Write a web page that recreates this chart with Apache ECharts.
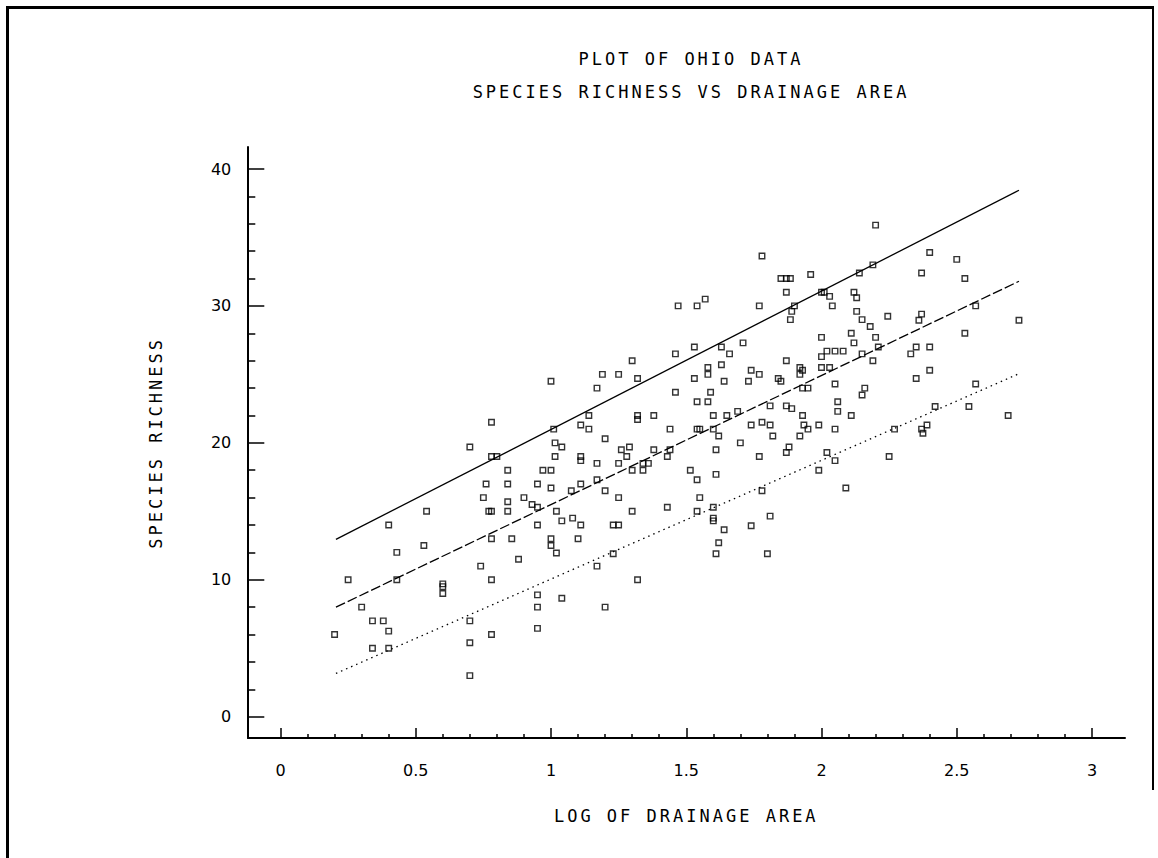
<!DOCTYPE html>
<html>
<head>
<meta charset="utf-8">
<script src="https://cdn.jsdelivr.net/npm/echarts@6/dist/echarts.min.js"></script>
<style>
  html, body { margin: 0; padding: 0; background: #fff; }
  #chart { width: 1158px; height: 858px; }
  text[style*="Mono"], text[font-family*="Mono"] { letter-spacing: 3px; }
</style>
</head>
<body>
<div id="chart"></div>
<script>
// ---- data ----
const titleLines = ['PLOT OF OHIO DATA', 'SPECIES RICHNESS VS DRAINAGE AREA'];
const xAxisName = 'LOG OF DRAINAGE AREA';
const yAxisName = 'SPECIES RICHNESS';

const logDrainageArea = [
  0.20,0.25,0.30,0.34,0.38,0.34,0.40,0.40,0.40,0.43,0.43,0.53,0.54,0.60,0.60,0.60,
  0.70,0.70,0.70,0.70,0.74,0.75,0.76,0.77,0.78,0.78,0.78,0.78,0.78,0.78,0.80,
  0.84,0.84,0.84,0.84,0.855,0.88,0.90,0.93,0.95,0.95,0.95,0.95,0.95,0.95,
  0.97,1.00,1.00,1.00,1.00,1.02,1.01,1.015,1.04,1.015,1.02,1.04,1.04,1.075,1.08,
  1.10,1.11,1.11,1.11,1.11,1.11,1.14,1.17,1.17,1.17,1.00,1.19,1.17,1.14,1.20,1.20,
  2.20,1.78,1.85,1.87,1.885,1.96,1.87,2.00,2.01,2.03,2.12,2.13,2.14,2.19,
  1.47,1.54,1.57,1.77,1.90,1.89,1.885,2.04,2.13,2.15,2.18,2.20,2.00,2.11,2.12,2.21,
  2.02,2.05,2.08,2.15,2.00,2.19,1.71,1.63,1.66,1.53,1.46,1.30,1.25,1.32,1.46,
  1.58,1.58,1.63,1.53,1.64,1.59,1.54,1.58,1.74,1.77,1.73,1.87,1.92,1.93,1.92,
  2.00,2.03,1.84,1.85,2.05,1.93,1.95,2.16,2.15,2.06,2.06,2.11,1.81,1.87,1.89,
  1.93,1.935,1.95,1.99,2.05,1.92,1.82,1.78,1.81,1.74,1.70,1.77,1.88,1.87,2.02,
  2.05,1.99,2.09,1.78,1.65,1.69,1.60,1.60,1.62,1.54,1.55,1.61,1.61,1.54,1.515,
  1.55,1.44,1.43,1.44,1.38,1.32,1.32,1.38,1.26,1.29,1.28,1.25,1.34,1.36,1.34,
  1.30,1.25,
  1.30,1.43,1.54,1.60,1.60,1.60,1.64,1.62,1.61,1.74,1.81,1.80,1.23,1.25,1.23,1.32,1.20,
  2.40,2.50,2.37,2.53,2.245,2.37,2.36,2.57,2.73,2.53,2.35,2.40,2.33,2.40,2.35,
  2.57,2.42,2.545,2.69,2.39,2.37,2.375,2.27,2.25
];
const speciesRichness = [
  6.0,10.0,8.0,7.0,7.0,5.0,6.25,5.0,14.0,12.0,10.0,12.5,15.0,9.7,9.5,9.0,
  19.7,7.0,5.4,3.0,11.0,16.0,17.0,15.0,15.0,13.0,10.0,6.0,21.5,19.0,19.0,
  18.0,17.0,15.7,15.0,13.0,11.5,16.0,15.5,17.0,15.3,14.0,8.9,8.0,6.45,
  18.0,18.0,16.7,13.0,12.5,11.95,21.0,20.0,19.7,19.0,15.0,14.3,8.65,16.5,14.5,
  13.0,14.0,19.0,18.7,17.0,21.3,21.0,18.5,17.3,11.0,24.5,25.0,24.0,22.0,20.3,16.5,
  35.9,33.65,32.0,32.0,32.0,32.3,31.0,31.0,31.0,30.7,31.0,30.6,32.4,33.0,
  30.0,30.0,30.5,30.0,30.0,29.6,29.0,30.0,29.6,29.0,28.5,27.7,27.7,28.0,27.3,27.0,
  26.7,26.7,26.7,26.5,26.3,26.0,27.3,27.0,26.5,27.0,26.5,26.0,25.0,24.7,23.7,
  25.5,25.0,25.7,24.7,24.5,23.7,23.0,23.0,25.3,25.0,24.5,26.0,25.5,25.3,25.0,
  25.5,25.5,24.7,24.5,24.3,24.0,24.0,24.0,23.5,23.0,22.3,22.0,22.7,22.7,22.5,
  22.0,21.3,21.0,21.3,21.0,20.5,20.5,21.5,21.3,21.3,20.0,19.0,19.7,19.3,19.3,
  18.7,18.0,16.7,16.5,22.0,22.3,22.0,21.0,20.5,21.0,21.0,19.5,17.7,17.3,18.0,
  16.0,21.0,19.0,19.5,19.5,22.0,21.7,22.0,19.5,19.7,19.0,18.5,18.5,18.5,18.0,
  18.0,16.0,
  15.0,15.3,15.0,15.3,14.5,14.3,13.65,12.7,11.9,13.95,14.65,11.9,14.0,14.0,11.9,10.0,8.0,
  33.9,33.4,32.4,32.0,29.25,29.4,28.95,30.0,28.95,28.0,27.0,27.0,26.5,25.3,24.7,
  24.3,22.65,22.65,22.0,21.3,21.0,20.7,21.0,19.0
];
// fitted lines (end points)
const lineX = [0.205, 2.73];
const upperLineY = [12.95, 38.45];
const middleLineY = [8.0, 31.8];
const lowerLineY = [3.16, 25.05];

const xTickLabels = ['0', '0.5', '1', '1.5', '2', '2.5', '3'];
const yTickLabels = ['0', '10', '20', '30', '40'];

// ---- build ----
const points = logDrainageArea.map((x, i) => [x, speciesRichness[i]]);
const mkLine = ys => lineX.map((x, i) => [x, ys[i]]);

const tickFont = { fontFamily: 'DejaVu Sans', fontSize: 16, color: '#000' };
const monoFont = { fontFamily: 'DejaVu Sans Mono', fontSize: 17, color: '#000', fontWeight: 'normal' };

const chart = echarts.init(document.getElementById('chart'), null, { renderer: 'svg', width: 1158, height: 858 });

const option = {
  animation: false,
  backgroundColor: '#ffffff',
  title: [
    { text: titleLines[0], left: 686, top: 45, textAlign: 'center', textStyle: monoFont },
    { text: titleLines[1], left: 686, top: 78, textAlign: 'center', textStyle: monoFont }
  ],
  graphic: [
    { type: 'line', shape: { x1: 7.5, y1: 6, x2: 7.5, y2: 858 }, style: { stroke: '#000', lineWidth: 3 } },
    { type: 'line', shape: { x1: 6, y1: 7.5, x2: 1154, y2: 7.5 }, style: { stroke: '#000', lineWidth: 3 } },
    { type: 'line', shape: { x1: 1153, y1: 6, x2: 1153, y2: 790 }, style: { stroke: '#000', lineWidth: 2 } }
  ],
  grid: [
    { left: 248, top: 147, width: 877, height: 591 },
    { left: 280.5, top: 169, width: 811.5, height: 547.7 }
  ],
  xAxis: [
    {
      gridIndex: 0, type: 'value', min: 0, max: 1,
      axisLine: { show: true, onZero: false, lineStyle: { color: '#000', width: 2 } },
      axisTick: { show: false }, axisLabel: { show: false }, splitLine: { show: false }
    },
    {
      gridIndex: 1, type: 'value', min: 0, max: 3, interval: 0.5, offset: 21.3,
      axisLine: { show: false, onZero: false },
      axisTick: { show: true, inside: true, length: 10, lineStyle: { color: '#000', width: 1.5 } },
      minorTick: { show: true, splitNumber: 5, length: 4, lineStyle: { color: '#000', width: 1.5 } },
      axisLabel: Object.assign({ margin: 24, formatter: (v) => xTickLabels[Math.round(v * 2)] }, tickFont),
      splitLine: { show: false },
      name: xAxisName, nameLocation: 'middle', nameGap: 69, nameTextStyle: monoFont
    }
  ],
  yAxis: [
    {
      gridIndex: 0, type: 'value', min: 0, max: 1,
      axisLine: { show: true, onZero: false, lineStyle: { color: '#000', width: 2 } },
      axisTick: { show: false }, axisLabel: { show: false }, splitLine: { show: false }
    },
    {
      gridIndex: 1, type: 'value', min: 0, max: 40, interval: 10, offset: 32.2,
      axisLine: { show: false, onZero: false },
      axisTick: { show: true, inside: true, length: 16, lineStyle: { color: '#000', width: 1.5 } },
      minorTick: { show: true, splitNumber: 5, length: 7, lineStyle: { color: '#000', width: 1.5 } },
      axisLabel: Object.assign({ margin: 17, formatter: (v) => yTickLabels[Math.round(v / 10)] }, tickFont),
      splitLine: { show: false },
      name: yAxisName, nameLocation: 'middle', nameRotate: 90, nameGap: 84, nameTextStyle: monoFont
    }
  ],
  series: [
    {
      type: 'scatter', xAxisIndex: 1, yAxisIndex: 1, data: points,
      symbol: 'rect', symbolSize: 5.5,
      itemStyle: { color: 'rgba(0,0,0,0)', borderColor: '#000', borderWidth: 1.4 },
      emphasis: { disabled: true }
    },
    {
      type: 'line', xAxisIndex: 1, yAxisIndex: 1, data: mkLine(upperLineY),
      showSymbol: false, clip: false, lineStyle: { color: '#000', width: 1.3, type: 'solid' }
    },
    {
      type: 'line', xAxisIndex: 1, yAxisIndex: 1, data: mkLine(middleLineY),
      showSymbol: false, clip: false, lineStyle: { color: '#000', width: 1.3, type: [10, 3] }
    },
    {
      type: 'line', xAxisIndex: 1, yAxisIndex: 1, data: mkLine(lowerLineY),
      showSymbol: false, clip: false, lineStyle: { color: '#000', width: 1.3, type: [1.5, 4] }
    }
  ]
};
chart.setOption(option);
</script>
</body>
</html>
